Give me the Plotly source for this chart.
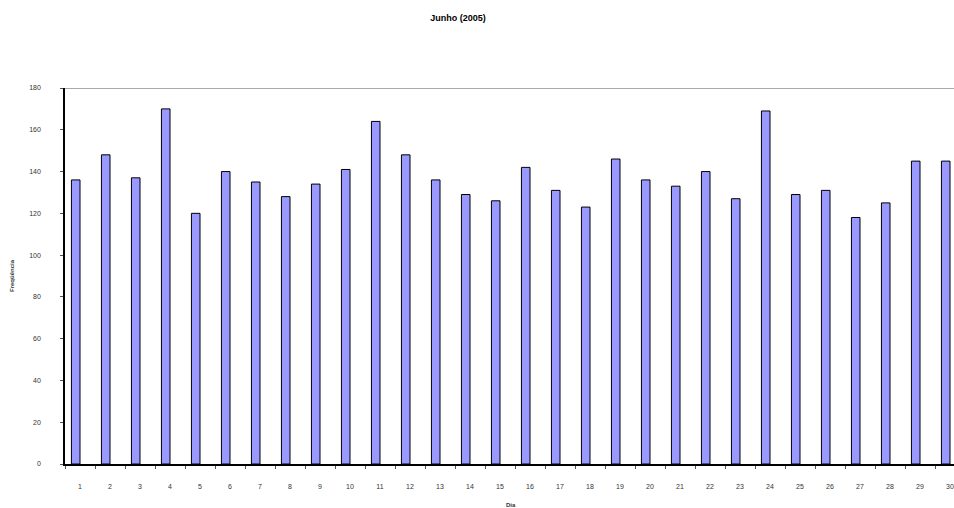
import plotly.graph_objects as go

# Daily frequency for June 2005
dias = list(range(1, 31))
frequencia = [136, 148, 137, 170, 120, 140, 135, 128, 134, 141,
              164, 148, 136, 129, 126, 142, 131, 123, 146, 136,
              133, 140, 127, 169, 129, 131, 118, 125, 145, 145]
y_ticks = list(range(0, 181, 20))

bar_w = 1 / 3.5

fig = go.Figure(go.Bar(
    x=dias, y=frequencia,
    width=bar_w, offset=-bar_w,
    marker=dict(color="#9999FF", line=dict(color="#000000", width=1)),
))

font = "Arial, Liberation Sans, sans-serif"
black = "#000000"

fig.update_layout(
    template="none",
    width=954, height=508,
    margin=dict(l=65, r=0, t=88, b=44),
    plot_bgcolor="white", paper_bgcolor="white",
    showlegend=False,
    font=dict(family=font, size=7, color=black),
    title=dict(text="<b>Junho (2005)</b>", x=458 / 954, xanchor="center",
               xref="container",
               y=1 - 18 / 508, yanchor="middle", yref="container",
               font=dict(family=font, size=9, color=black)),
    xaxis=dict(
        range=[0.5, 0.5 + (954 - 65) / 30],
        tickmode="array", tickvals=dias, ticktext=[str(d) for d in dias],
        ticks="", showgrid=False, zeroline=False,
        showline=True, linecolor=black, linewidth=1.5,
        ticklabelstandoff=15,
        tickfont=dict(size=7, color="#333333"),
        minor=dict(tick0=0.5, dtick=1, ticks="outside", ticklen=3,
                   tickcolor="#555555", tickwidth=1, showgrid=False),
    ),
    yaxis=dict(
        range=[0, 180], tickmode="array", tickvals=y_ticks,
        ticks="outside", ticklen=3, tickcolor="#555555", tickwidth=1,
        showgrid=False, zeroline=False,
        showline=True, linecolor=black, linewidth=1.5,
        ticklabelstandoff=18,
        tickfont=dict(size=7, color="#333333"),
    ),
    shapes=[dict(type="line", xref="paper", yref="y", x0=0, x1=1, y0=180, y1=180,
                 line=dict(color="#8c8c8c", width=1.5))],
    annotations=[
        dict(text="<b>Freqüência</b>", xref="paper", yref="paper",
             x=-53 / 889, y=0.5, xanchor="center", yanchor="middle",
             textangle=-90, showarrow=False, font=dict(size=6, color="#333333")),
        dict(text="<b>Dia</b>", xref="paper", yref="paper",
             x=(511 - 65) / 889, y=-(505 - 464) / 376, xanchor="center",
             yanchor="middle", showarrow=False, font=dict(size=6, color="#333333")),
    ],
)

fig.write_html("out.html")
